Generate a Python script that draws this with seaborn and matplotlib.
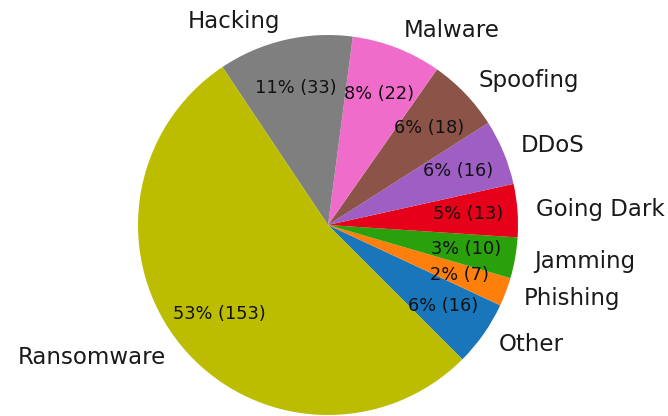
import matplotlib
matplotlib.use("Agg")
import matplotlib.pyplot as plt
import seaborn as sns

# Incident categories, drawn counter-clockwise starting at the lower right
categories = ["Other", "Phishing", "Jamming", "Going Dark", "DDoS",
              "Spoofing", "Malware", "Hacking", "Ransomware"]
counts = [16, 7, 10, 13, 16, 18, 22, 33, 153]

sns.set_theme(style="white")
plt.rcParams["font.family"] = ["DejaVu Sans"]

# tab10-based palette, a touch more saturated
colors = ["#1a76bb", "#ff7f0c", "#2aa00c", "#e6001a", "#9e5ec4",
          "#8c5349", "#f06ccb", "#7f7f7f", "#bcbd00"]

total = sum(counts)


def pct_label(p):
    return f"{p:.0f}% ({round(p * total / 100)})"


fig = plt.figure(figsize=(6.68, 4.16), dpi=100)
ax = fig.add_axes([0, 0, 1, 1])

wedges, texts, autotexts = ax.pie(
    counts,
    labels=categories,
    colors=colors,
    startangle=-45,
    counterclock=True,
    autopct=pct_label,
    pctdistance=0.74,
    labeldistance=1.1,
    wedgeprops={"linewidth": 0, "edgecolor": "none"},
    textprops={"fontsize": 16.5, "color": "#1a1a1a"},
)
for t in autotexts:
    t.set_fontsize(12.8)
    t.set_color("#111111")

# pie radius of 190 px centred at (328, 225) px in a 668x416 canvas
scale = 190.0
cx, cy = 328, 225
ax.set_xlim(-cx / scale, (668 - cx) / scale)
ax.set_ylim(-(416 - cy) / scale, cy / scale)
ax.set_aspect("equal")
ax.axis("off")

fig.savefig("out.png", dpi=100)
